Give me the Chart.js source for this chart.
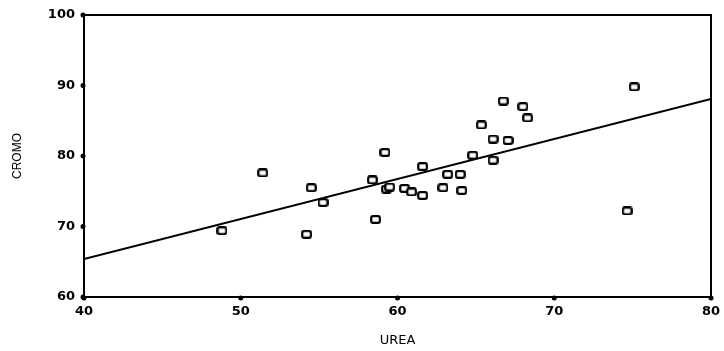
<!DOCTYPE html>
<html>
<head>
<meta charset="utf-8">
<script src="https://cdn.jsdelivr.net/npm/chart.js@4.4.1/dist/chart.umd.min.js"></script>
<style>
    html, body { margin: 0; padding: 0; background: #fff; }
    #wrap { width: 724px; height: 351px; }
</style>
</head>
<body>
<div id="wrap"><canvas id="scatterChart" width="724" height="351"></canvas></div>
<script>
// values
const urea = [48.8, 51.4, 54.2, 54.5, 55.25, 58.4, 58.6, 59.2, 59.3, 59.5,
    60.45, 60.9, 61.6, 61.6, 62.9, 63.2, 64.0, 64.1, 64.8, 65.35,
    66.1, 66.1, 66.75, 67.05, 68.0, 68.3, 74.65, 75.1];
const cromo = [69.4, 77.6, 68.9, 75.5, 73.4, 76.6, 71.0, 80.5, 75.3, 75.6,
    75.4, 74.9, 78.5, 74.4, 75.5, 77.4, 77.4, 75.1, 80.1, 84.4,
    82.4, 79.4, 87.8, 82.2, 87.0, 85.4, 72.2, 89.8];
const fitX = [40, 80];
const fitY = [65.4, 88.1];
const xTicks = [40, 50, 60, 70, 80];
const yTicks = [60, 70, 80, 90, 100];

// small hollow rounded box used as the marker
function makeMarker() {
    const c = document.createElement('canvas');
    c.width = 11;
    c.height = 9;
    const g = c.getContext('2d');
    g.fillStyle = '#fff';
    g.strokeStyle = '#000';
    g.lineWidth = 2.2;
    g.beginPath();
    g.roundRect(1.2, 1.2, 8.6, 6.6, 1.8);
    g.fill();
    g.stroke();
    return c;
}

const framePlugin = {
    id: 'frame',
    afterDatasetsDraw(chart) {
        const { ctx, chartArea: a, scales } = chart;
        ctx.save();
        ctx.strokeStyle = '#000';
        ctx.lineWidth = 2;
        ctx.strokeRect(a.left, a.top, a.right - a.left, a.bottom - a.top);
        ctx.fillStyle = '#000';
        xTicks.forEach(v => {
            ctx.beginPath();
            ctx.arc(scales.x.getPixelForValue(v), a.bottom + 1, 2.5, 0, Math.PI * 2);
            ctx.fill();
        });
        yTicks.forEach(v => {
            ctx.beginPath();
            ctx.arc(a.left - 1, scales.y.getPixelForValue(v), 2.5, 0, Math.PI * 2);
            ctx.fill();
        });
        ctx.restore();
    }
};

function createScatterChart() {
    const ctx = document.getElementById('scatterChart').getContext('2d');
    const tickFont = { family: 'DejaVu Sans', size: 13, weight: 'bold' };
    new Chart(ctx, {
        type: 'scatter',
        data: {
            datasets: [{
                type: 'line',
                data: fitX.map((x, i) => ({ x: x, y: fitY[i] })),
                borderColor: '#000',
                borderWidth: 2,
                pointRadius: 0,
                fill: false
            }, {
                data: urea.map((x, i) => ({ x: x, y: cromo[i] })),
                pointStyle: makeMarker(),
                pointRadius: 5,
                pointHoverRadius: 5
            }]
        },
        options: {
            responsive: false,
            animation: false,
            events: [],
            layout: { padding: { top: 15, right: 13, left: 0, bottom: 0 } },
            plugins: { legend: { display: false }, tooltip: { enabled: false } },
            scales: {
                x: {
                    type: 'linear',
                    min: 40,
                    max: 80,
                    afterBuildTicks: s => { s.ticks = xTicks.map(v => ({ value: v })); },
                    afterFit: s => {
                        s.height = 54;
                        s.paddingLeft = 0;
                        s.paddingRight = 0;
                    },
                    grid: { display: false, drawTicks: false },
                    border: { display: false },
                    ticks: { color: '#000', font: tickFont, padding: 7, maxRotation: 0 },
                    title: {
                        display: true,
                        text: 'UREA',
                        color: '#000',
                        font: { family: 'DejaVu Sans', size: 13, lineHeight: 1.0 }
                    }
                },
                y: {
                    min: 60,
                    max: 100,
                    afterBuildTicks: s => { s.ticks = yTicks.map(v => ({ value: v })); },
                    afterFit: s => {
                        s.width = 84;
                        s.paddingTop = 0;
                        s.paddingBottom = 0;
                    },
                    grid: { display: false, drawTicks: false },
                    border: { display: false },
                    ticks: { color: '#000', font: tickFont, padding: 9 },
                    title: {
                        display: true,
                        text: 'CROMO',
                        color: '#000',
                        font: { family: 'Liberation Sans', size: 12, lineHeight: 2.3 }
                    }
                }
            }
        },
        plugins: [framePlugin]
    });
}

document.addEventListener('DOMContentLoaded', createScatterChart);
</script>
</body>
</html>
